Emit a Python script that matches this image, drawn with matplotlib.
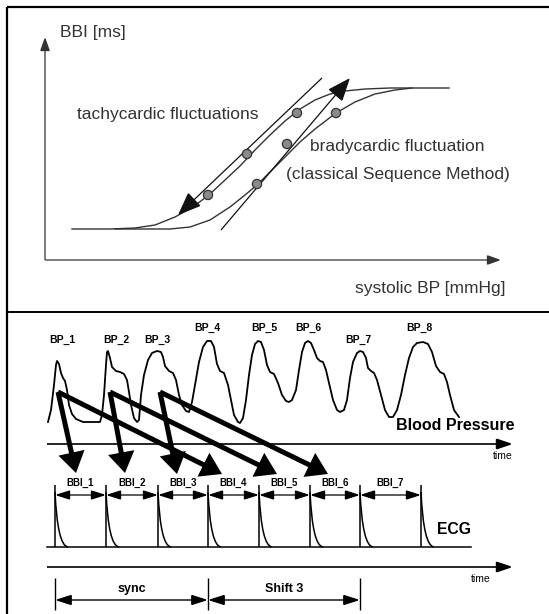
import numpy as np
import matplotlib.pyplot as plt
from matplotlib.patches import FancyArrowPatch, Circle, PathPatch
from matplotlib.path import Path

plt.rcParams['font.family'] = ['Liberation Sans', 'DejaVu Sans']

# everything is laid out in picture pixels (x right, y down)
W, H = 549, 614

# ---- top panel: baroreflex sigmoid ----
tachy_x = [72, 110, 135, 155, 175, 193, 210, 225, 240, 255, 270, 285, 300, 315, 330, 345, 365, 390, 420, 449]
tachy_y = [229, 229, 228, 225, 217, 207, 194, 180, 166, 150, 135, 121, 109, 100, 94, 91, 89, 88, 88, 88]
brady_x = [115, 170, 190, 210, 230, 245, 257, 270, 285, 300, 315, 336, 355, 375, 395, 412]
brady_y = [229, 229, 227, 220, 207, 195, 185, 172, 157, 142, 129, 113, 102, 94, 90, 88]
tachy_dots_x = [297, 247, 208]
tachy_dots_y = [113, 154, 195]
brady_dots_x = [336, 287, 257]
brady_dots_y = [113, 144, 184]
tachy_line = [(322, 78), (178, 215)]
brady_line = [(221, 230), (350, 78)]

# ---- bottom panel: blood pressure beats ----
bp_x = [48, 51, 54, 56, 57, 59, 61, 63, 65, 67, 69, 72, 76, 83, 100,
        102, 104, 106, 107, 108, 110, 112, 116, 120, 124, 127, 129, 131, 134, 137, 139,
        141, 144, 148, 152, 157, 161, 163, 165, 169, 173, 176, 179, 182, 186, 189,
        192, 195, 199, 203, 207, 211, 214, 217, 220, 224, 228, 231, 234, 238, 240,
        243, 246, 249, 252, 255, 258, 261, 264, 267, 270, 274, 278, 282, 286, 289,
        292, 296, 299, 302, 305, 308, 311, 314, 317, 320, 323, 326, 329, 333, 337, 340,
        344, 347, 350, 353, 357, 360, 363, 366, 368, 371, 374, 377, 381, 385, 389, 393,
        397, 401, 405, 409, 413, 417, 423, 428, 432, 436, 440, 444, 447, 450, 454, 459]
bp_y = [422, 410, 385, 365, 361, 364, 373, 378, 381, 390, 405, 414, 419, 422, 422,
        415, 395, 365, 352, 351, 358, 367, 371, 372, 374, 380, 392, 405, 418, 422, 420,
        395, 375, 360, 353, 351, 352, 357, 366, 371, 373, 380, 395, 405, 411, 412,
        402, 385, 362, 347, 341, 341, 347, 364, 371, 373, 385, 400, 415, 422, 423,
        418, 400, 375, 355, 344, 341, 342, 350, 365, 372, 374, 383, 395, 401, 402,
        400, 390, 370, 352, 343, 341, 343, 350, 358, 361, 362, 370, 383, 400, 410, 412,
        410, 400, 378, 362, 353, 351, 352, 358, 368, 371, 373, 380, 395, 410, 417, 417,
        410, 395, 375, 358, 347, 343, 342, 344, 352, 366, 372, 374, 382, 395, 410, 417]
bp_labels = ['BP_1', 'BP_2', 'BP_3', 'BP_4', 'BP_5', 'BP_6', 'BP_7', 'BP_8']
bp_label_x = [62, 116, 157, 207, 264, 308, 358, 419]
bp_label_y = [340, 340, 340, 328, 328, 328, 340, 328]

# thick arrows: BP beat -> same BBI and -> BBI shifted by 3
bp_src = [(58, 392), (110, 392), (160, 392)]
sync_dst = [(76, 473), (125, 473), (177, 474)]
shift_dst = [(222, 474), (277, 474), (328, 474)]

# ---- ECG ----
r_x = [55, 106, 158, 208, 259, 310, 360, 421]
bbi_labels = ['BBI_1', 'BBI_2', 'BBI_3', 'BBI_4', 'BBI_5', 'BBI_6', 'BBI_7']
sync_ticks = [55, 208, 360]
sync_labels = ['sync', 'Shift 3']

top_grey = '#333333'

fig = plt.figure(figsize=(W / 100, H / 100), dpi=100)
ax = fig.add_axes([0, 0, 1, 1])
ax.set_xlim(0, W)
ax.set_ylim(H, 0)
ax.axis('off')


def arrow(p0, p1, style, lw, ms, color='black', z=3):
    a = FancyArrowPatch(p0, p1, arrowstyle=style, mutation_scale=ms, lw=lw,
                        color=color, shrinkA=0, shrinkB=0, zorder=z,
                        joinstyle='miter', capstyle='butt')
    ax.add_patch(a)


# frame
ax.plot([7, 7], [7, H], color='black', lw=1.6, solid_capstyle='butt')
ax.plot([7, W], [7, 7], color='black', lw=1.6, solid_capstyle='butt')
ax.plot([7, W], [312, 312], color='black', lw=1.4, solid_capstyle='butt')

# top axes
arrow((45, 260), (45, 37), '-|>,head_length=0.7,head_width=0.25', 0.9, 12, top_grey)
arrow((45, 260), (501, 260), '-|>,head_length=0.7,head_width=0.25', 0.9, 12, top_grey)
ax.text(60, 33, 'BBI [ms]', fontsize=12.5, color=top_grey, va='center')
ax.text(355, 288, 'systolic BP [mmHg]', fontsize=12.5, color=top_grey, va='center')

ax.plot(tachy_x, tachy_y, color=top_grey, lw=1.0)
ax.plot(brady_x, brady_y, color=top_grey, lw=1.0)
arrow(tachy_line[0], tachy_line[1], '-|>,head_length=1.05,head_width=0.42', 0.9, 14, '#111111')
arrow(brady_line[0], brady_line[1], '-|>,head_length=1.05,head_width=0.42', 0.9, 14, '#111111')
for x, y in zip(tachy_dots_x + brady_dots_x, tachy_dots_y + brady_dots_y):
    ax.add_patch(Circle((x, y), 4.6, facecolor='#8a8a8a', edgecolor='#333333', lw=0.9, zorder=4))

ax.text(77, 114, 'tachycardic fluctuations', fontsize=12.5, color=top_grey, va='center')
ax.text(310, 147, 'bradycardic fluctuation', fontsize=12.5, color=top_grey, va='center')
ax.text(286, 174, '(classical Sequence Method)', fontsize=12.5, color=top_grey, va='center')

# blood pressure
ax.plot(bp_x, bp_y, color='black', lw=1.3, solid_joinstyle='round', zorder=2)
for lab, x, y in zip(bp_labels, bp_label_x, bp_label_y):
    ax.text(x, y, lab, fontsize=7.5, fontweight='bold', ha='center', va='center')
ax.text(515, 426, 'Blood Pressure', fontsize=11.5, fontweight='bold', ha='right', va='center')
arrow((47, 444), (513, 444), '-|>,head_length=0.9,head_width=0.3', 1.2, 11)
ax.text(503, 456, 'time', fontsize=7.5, ha='center', va='center')

for src, d1, d2 in zip(bp_src, sync_dst, shift_dst):
    arrow(src, d1, '-|>,head_length=0.7,head_width=0.45', 3.6, 14, z=5)
    arrow(src, d2, '-|>,head_length=0.7,head_width=0.45', 3.6, 14, z=5)

# ECG
ax.plot([47, 471], [547, 547], color='black', lw=1.1)
ax.vlines(r_x, 485, 547, color='black', lw=1.1)
for r in r_x:
    verts = [(r, 492), (r + 2.5, 546), (r + 13, 547)]
    p = Path(verts, [Path.MOVETO, Path.CURVE3, Path.CURVE3])
    ax.add_patch(PathPatch(p, facecolor='none', edgecolor='black', lw=1.1))
for i, lab in enumerate(bbi_labels):
    ax.text((r_x[i] + r_x[i + 1]) / 2, 483, lab, fontsize=7, fontweight='bold', ha='center', va='center')
    arrow((r_x[i], 495), (r_x[i + 1], 495), '<|-|>,head_length=1.0,head_width=0.32', 0.9, 9)
ax.text(437, 529, 'ECG', fontsize=11.3, fontweight='bold', va='center')

arrow((47, 567), (513, 567), '-|>,head_length=0.9,head_width=0.3', 1.2, 11)
ax.text(481, 579, 'time', fontsize=7.5, ha='center', va='center')

ax.vlines(sync_ticks, 578, 610, color='black', lw=1.0)
for i, lab in enumerate(sync_labels):
    a, b = sync_ticks[i], sync_ticks[i + 1]
    arrow((a, 600), (b, 600), '<|-|>,head_length=1.0,head_width=0.32', 1.0, 10)
    ax.text((a + b) / 2, 589, lab, fontsize=9, fontweight='bold', ha='center', va='center')

fig.savefig('out.png', dpi=100)
